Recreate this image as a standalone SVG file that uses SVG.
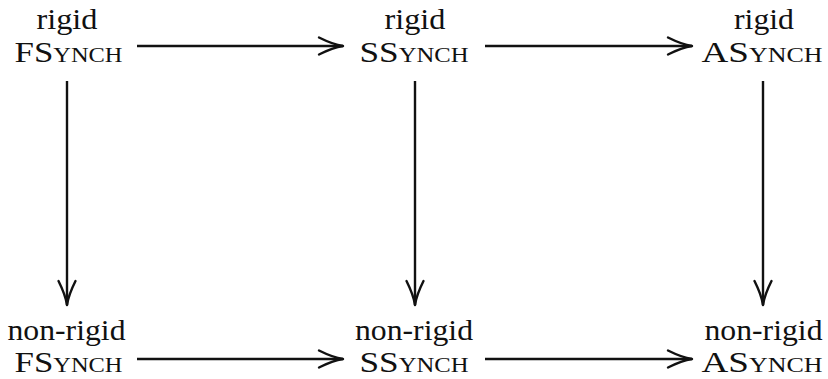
<svg xmlns="http://www.w3.org/2000/svg" width="828" height="379" viewBox="0 0 828 379">
<defs>
<style>
.t{font-family:"Liberation Serif","Times New Roman",serif;font-size:30px;fill:#111111;text-anchor:middle}
.sc{font-variant:small-caps}
.c{stroke:#111111;stroke-width:2.4;fill:none}
</style>
<marker id="ah" markerUnits="userSpaceOnUse" markerWidth="34" markerHeight="24" viewBox="-28 -12 30 24" refX="0" refY="0" orient="auto" overflow="visible">
<path d="M-24,-8.5 Q-10,-1.5 0,0 Q-10,1.5 -24,8.5" fill="none" stroke="#111111" stroke-width="2.4" stroke-linecap="round" stroke-linejoin="round"/>
</marker>
</defs>
<rect width="828" height="379" fill="#ffffff"/>
<g id="connectors">
<line class="c" x1="137" y1="46" x2="343" y2="46" marker-end="url(#ah)"/>
<line class="c" x1="485" y1="46" x2="692" y2="46" marker-end="url(#ah)"/>
<line class="c" x1="137" y1="359" x2="343" y2="359" marker-end="url(#ah)"/>
<line class="c" x1="485" y1="359" x2="692" y2="359" marker-end="url(#ah)"/>
<line class="c" x1="67" y1="81" x2="67" y2="305" marker-end="url(#ah)"/>
<line class="c" x1="415" y1="81" x2="415" y2="305" marker-end="url(#ah)"/>
<line class="c" x1="763" y1="81" x2="763" y2="305" marker-end="url(#ah)"/>
</g>
<g id="rigid-fsynch">
<text class="t" x="67" y="29" textLength="61" lengthAdjust="spacingAndGlyphs">rigid</text>
<text class="t sc" x="68.5" y="62" textLength="108" lengthAdjust="spacingAndGlyphs">FSynch</text>
</g>
<g id="rigid-ssynch">
<text class="t" x="415" y="29" textLength="61" lengthAdjust="spacingAndGlyphs">rigid</text>
<text class="t sc" x="414" y="62" textLength="109" lengthAdjust="spacingAndGlyphs">SSynch</text>
</g>
<g id="rigid-asynch">
<text class="t" x="764" y="29" textLength="60" lengthAdjust="spacingAndGlyphs">rigid</text>
<text class="t sc" x="762" y="62" textLength="121" lengthAdjust="spacingAndGlyphs">ASynch</text>
</g>
<g id="nonrigid-fsynch">
<text class="t" x="66.5" y="340" textLength="118" lengthAdjust="spacingAndGlyphs">non-rigid</text>
<text class="t sc" x="68.5" y="372" textLength="108" lengthAdjust="spacingAndGlyphs">FSynch</text>
</g>
<g id="nonrigid-ssynch">
<text class="t" x="414" y="340" textLength="118" lengthAdjust="spacingAndGlyphs">non-rigid</text>
<text class="t sc" x="414" y="372" textLength="109" lengthAdjust="spacingAndGlyphs">SSynch</text>
</g>
<g id="nonrigid-asynch">
<text class="t" x="763.5" y="340" textLength="118" lengthAdjust="spacingAndGlyphs">non-rigid</text>
<text class="t sc" x="762" y="372" textLength="121" lengthAdjust="spacingAndGlyphs">ASynch</text>
</g>
</svg>
